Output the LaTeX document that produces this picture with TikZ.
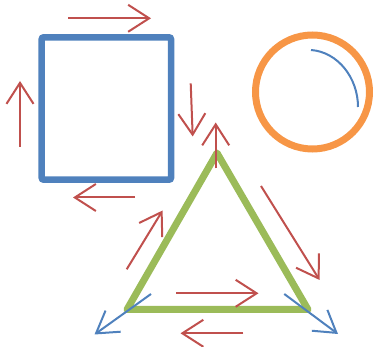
\documentclass[tikz,border=0pt]{standalone}
\usetikzlibrary{arrows.meta}
\definecolor{offred}{HTML}{C0504D}
\definecolor{offblue}{HTML}{4F81BD}
\definecolor{offgreen}{HTML}{9BBB59}
\definecolor{offorange}{HTML}{F79646}
\tikzset{
  redarrow/.style={draw=offred, line width=2pt, -{Straight Barb[length=21pt,width=27pt,line width=2pt]}},
  bluearrow/.style={draw=offblue, line width=2pt, -{Straight Barb[length=21pt,width=26pt,line width=2pt]}},
  squareshape/.style={draw=offblue, line width=6.5pt, rounded corners=2pt},
  ringshape/.style={draw=offorange, line width=7pt},
  triangleshape/.style={draw=offgreen, line width=7pt, line join=round},
}
\begin{document}
\begin{tikzpicture}[x=1pt,y=-1pt]
\useasboundingbox (0,0) rectangle (373,347);
% square
\draw[squareshape] (41.7,37.3) rectangle (171,179.7);
% circle
\draw[ringshape] (312.5,92) circle (57);
\draw[offblue, line width=2pt] (311,50) .. controls (338,52) and (358,78) .. (358,107);
% triangle
\coordinate (tl) at (127,309.5);
\coordinate (tr) at (308,309.5);
\coordinate (tt) at (217,153);
\draw[triangleshape] (tl) -- (tr) -- (tt) -- cycle;
% red arrows around square
\draw[redarrow] (68,18.3) -- (151,18.3);
\draw[redarrow] (20,146.7) -- (20,81);
\draw[redarrow] (190.7,83.3) -- (192.7,136.5);
\draw[redarrow] (135,197.5) -- (73,197.5);
% red arrows around triangle
\draw[redarrow] (215.7,168.3) -- (215.7,122.5);
\draw[redarrow] (261,186) -- (319.6,280);
\draw[redarrow] (126.7,269.3) -- (162.6,210.5);
\draw[redarrow] (176,293.3) -- (258.5,293.3);
\draw[redarrow] (243.3,333.3) -- (180.5,333.3);
% blue arrows
\draw[bluearrow] (151,294) -- (94.5,334.5);
\draw[bluearrow] (284.3,294) -- (338,334);
\end{tikzpicture}
\end{document}
